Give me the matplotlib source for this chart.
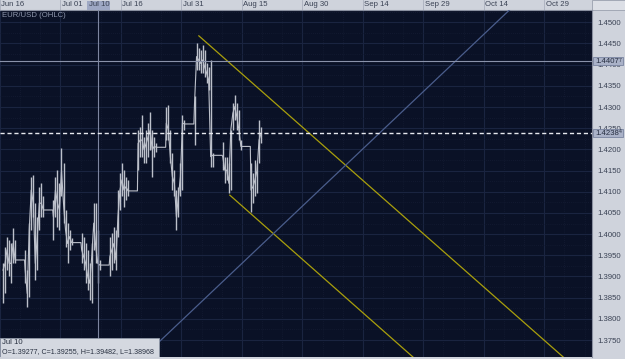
import matplotlib
matplotlib.use('Agg')
import matplotlib.pyplot as plt
import matplotlib.transforms as mtransforms
from matplotlib.patches import Rectangle
import pandas as pd

# EUR/USD half-day bars (06:00 and 18:00), first bar is Jun 16 18:00
trading_days = pd.bdate_range('2009-06-16', '2009-08-19')

highs = [1.3931,
         1.3970, 1.3994, 1.3986, 1.3978, 1.4014, 1.3986,
         1.3963, 1.3915, 1.4026, 1.4136, 1.4140, 1.4073, 1.4041, 1.4112, 1.4120, 1.4089,
         1.4081, 1.4136, 1.4151, 1.4120, 1.4203, 1.4167, 1.4057, 1.4026, 1.4010, 1.3990,
         1.4002, 1.3994, 1.3978, 1.3963, 1.3931, 1.3978, 1.4073, 1.4073, 1.4010, 1.3939,
         1.3994, 1.4002, 1.4018, 1.4010, 1.4104, 1.4144, 1.4167, 1.4151, 1.4136, 1.4128,
         1.4246, 1.4254, 1.4281, 1.4230, 1.4246, 1.4262, 1.4289, 1.4246, 1.4230, 1.4214,
         1.4301, 1.4305, 1.4246, 1.4191, 1.4151, 1.4104, 1.4112, 1.4167, 1.4281, 1.4270,
         1.4325, 1.4451, 1.4439, 1.4435, 1.4447, 1.4435, 1.4403, 1.4395, 1.4411, 1.4191,
         1.4218, 1.4183, 1.4183, 1.4167, 1.4246, 1.4309, 1.4329, 1.4309, 1.4293, 1.4222,
         1.4167, 1.4144, 1.4175, 1.4167, 1.4270, 1.4254]
lows = [1.3837,
        1.3860, 1.3915, 1.3900, 1.3884, 1.3931, 1.3931,
        1.3884, 1.3829, 1.3852, 1.4010, 1.4041, 1.3892, 1.3915, 1.4010, 1.4041, 1.4041,
        1.3986, 1.4041, 1.4018, 1.4010, 1.4089, 1.4026, 1.3970, 1.3931, 1.3963, 1.3974,
        1.3931, 1.3915, 1.3884, 1.3868, 1.3845, 1.3837, 1.3963, 1.3931, 1.3884, 1.3915,
        1.3900, 1.3915, 1.3931, 1.3915, 1.3994, 1.4057, 1.4089, 1.4065, 1.4081, 1.4089,
        1.4151, 1.4183, 1.4183, 1.4167, 1.4167, 1.4183, 1.4199, 1.4136, 1.4183, 1.4195,
        1.4222, 1.4222, 1.4167, 1.4104, 1.4089, 1.4010, 1.4041, 1.4089, 1.4104, 1.4246,
        1.4211, 1.4388, 1.4388, 1.4380, 1.4380, 1.4372, 1.4356, 1.4340, 1.4159, 1.4159,
        1.4151, 1.4120, 1.4128, 1.4096, 1.4104, 1.4246, 1.4270, 1.4246, 1.4222, 1.4199,
        1.4053, 1.4073, 1.4089, 1.4096, 1.4167, 1.4214]
closes = [1.3915,
          1.3931, 1.3963, 1.3931, 1.3931, 1.3978, 1.3939,
          1.3915, 1.3860, 1.4010, 1.4104, 1.4073, 1.3931, 1.3994, 1.4073, 1.4073, 1.4057,
          1.4041, 1.4104, 1.4073, 1.4057, 1.4151, 1.4073, 1.4010, 1.3978, 1.3994, 1.3980,
          1.3963, 1.3947, 1.3931, 1.3900, 1.3884, 1.3947, 1.4026, 1.3970, 1.3931, 1.3927,
          1.3947, 1.3963, 1.3978, 1.3939, 1.4041, 1.4104, 1.4128, 1.4104, 1.4112, 1.4102,
          1.4214, 1.4222, 1.4222, 1.4199, 1.4214, 1.4230, 1.4246, 1.4199, 1.4207, 1.4205,
          1.4262, 1.4246, 1.4183, 1.4136, 1.4120, 1.4041, 1.4089, 1.4136, 1.4262, 1.4260,
          1.4309, 1.4419, 1.4411, 1.4403, 1.4411, 1.4395, 1.4380, 1.4364, 1.4183, 1.4186,
          1.4183, 1.4151, 1.4151, 1.4120, 1.4246, 1.4285, 1.4301, 1.4277, 1.4246, 1.4207,
          1.4104, 1.4112, 1.4128, 1.4151, 1.4222, 1.4238]

# drawn objects (anchor date, price)
channel_upper = (['2009-08-04 07:40', '2009-11-02 16:30'], [1.4468, 1.3710])
channel_lower = (['2009-08-12 00:00', '2009-09-26 10:00'], [1.4092, 1.3710])
trend_line = (['2009-07-21 12:00', '2009-10-20 14:00'], [1.3710, 1.4531])
level_line = 1.44077
last_price = 1.42384
crosshair_time = '2009-07-10 10:00'
crosshair_text = 'O=1.39277, C=1.39255, H=1.39482, L=1.38968'

date_labels = ['2009-06-16', '2009-07-01', '2009-07-16', '2009-07-31', '2009-08-15',
               '2009-08-30', '2009-09-14', '2009-09-29', '2009-10-14', '2009-10-29']
price_ticks = [1.3750, 1.3800, 1.3850, 1.3900, 1.3950, 1.4000, 1.4050, 1.4100,
               1.4150, 1.4200, 1.4250, 1.4300, 1.4350, 1.4400, 1.4450, 1.4500]

BG = '#0a1126'
PANEL = '#cfd3dc'
TXT = '#3a4254'
FONT = 'Liberation Sans'
FS = 5.6
BAR = '#bcc0ca'

times = []
for d in trading_days:
    times.append(d + pd.Timedelta(hours=6))
    times.append(d + pd.Timedelta(hours=18))
times = times[1:]

# close line: hold the last close flat across weekend gaps
line_t, line_p = [], []
for i, t in enumerate(times):
    if i > 0 and (t - times[i - 1]) > pd.Timedelta(hours=13):
        line_t.append(t - pd.Timedelta(hours=4))
        line_p.append(closes[i - 1])
    line_t.append(t)
    line_p.append(closes[i])

fig = plt.figure(figsize=(6.25, 3.59), dpi=100, facecolor=PANEL)
ax = fig.add_axes([0, 2 / 359, 592 / 625, 347 / 359])
ax.set_facecolor(BG)
ax.set_xlim(pd.Timestamp('2009-06-16 16:20'), pd.Timestamp('2009-11-09 20:00'))
ax.set_ylim(1.3710, 1.4529)

# grid
major_x = pd.to_datetime(date_labels)
minor_x = pd.date_range('2009-06-16', '2009-11-10', freq='5D')
ax.set_xticks(major_x)
ax.set_xticks(minor_x, minor=True)
ax.set_yticks(price_ticks)
ax.set_yticks([p + 0.0025 for p in price_ticks], minor=True)
ax.grid(which='major', color='#1a2440', lw=0.8)
ax.grid(which='minor', color='#141c34', lw=0.6, ls=(0, (1, 1.5)))
ax.set_axisbelow(True)

ax.yaxis.tick_right()
ax.set_yticklabels(['%.4f' % p for p in price_ticks], fontsize=FS, color=TXT, family=FONT)
ax.tick_params(axis='y', which='both', length=0, pad=4)
ax.tick_params(axis='x', which='both', length=0, labelbottom=False)
for side in ['left', 'bottom']:
    ax.spines[side].set_visible(False)
for side in ['right', 'top']:
    ax.spines[side].set_color('#8a90a0')
    ax.spines[side].set_linewidth(0.8)

# price bars
ax.vlines(times, lows, highs, color=BAR, lw=1.0, zorder=3)
ax.plot(line_t, line_p, color=BAR, lw=0.8, zorder=3)

# drawings
ax.plot(pd.to_datetime(channel_upper[0]), channel_upper[1], color='#a99f0c', lw=0.9, zorder=4)
ax.plot(pd.to_datetime(channel_lower[0]), channel_lower[1], color='#a99f0c', lw=0.9, zorder=4)
ax.plot(pd.to_datetime(trend_line[0]), trend_line[1], color='#4a5d8c', lw=0.9, zorder=4)
ax.axhline(level_line, color='#8a92aa', lw=0.8, zorder=4)
ax.axhline(last_price, color='#e6e8ee', lw=1.0, ls=(0, (3, 2)), zorder=5)
ax.axvline(pd.Timestamp(crosshair_time), color='#7d85a0', lw=0.8, zorder=4)

ax.text(0.003, 0.985, 'EUR/USD (OHLC)', transform=ax.transAxes, fontsize=FS,
        color='#8e96ac', family=FONT, va='center', ha='left')

# header with dates
hdr = mtransforms.blended_transform_factory(ax.transData, fig.transFigure)
hy = 1 - 5 / 359
for d in major_x:
    ax.plot([d, d], [1 - 10 / 359, 1], transform=hdr, color='#aab0bd', lw=0.6, clip_on=False)
    ax.text(d + pd.Timedelta(hours=8), hy, d.strftime('%b %d'), transform=hdr, fontsize=FS,
            color=TXT, family=FONT, va='center', ha='left', clip_on=False)
ct = pd.Timestamp(crosshair_time)
ax.add_patch(Rectangle((ct - pd.Timedelta(hours=66), 1 - 10 / 359), pd.Timedelta(hours=132),
                       9 / 359, transform=hdr, facecolor='#9ea8c4', edgecolor='none',
                       clip_on=False, zorder=5))
ax.text(ct - pd.Timedelta(hours=56), hy, ct.strftime('%b %d'), transform=hdr, fontsize=FS,
        color=TXT, family=FONT, va='center', ha='left', clip_on=False, zorder=6)
fig.patches.append(Rectangle((592 / 625, 1 - 10 / 359), 33 / 625, 10 / 359,
                             transform=fig.transFigure, facecolor='#dcdfe6',
                             edgecolor='#9aa0ae', lw=0.6, zorder=-1))

# price marker boxes on the right axis (4 decimals + small fifth digit)
rt = mtransforms.blended_transform_factory(ax.transAxes, ax.transData)
for price in [level_line, last_price]:
    s = '%.5f' % price
    ax.add_patch(Rectangle((1.002, price - 0.00092), 0.05, 0.00184, transform=rt,
                           facecolor='#aab2c8', edgecolor='#7a84a0', lw=0.6,
                           clip_on=False, zorder=6))
    ax.text(1.0065, price, s[:-1], transform=rt, fontsize=FS, color='#262e40',
            family=FONT, va='center', ha='left', clip_on=False, zorder=7)
    ax.text(1.0455, price + 0.0003, s[-1], transform=rt, fontsize=3.8, color='#262e40',
            family=FONT, va='center', ha='left', clip_on=False, zorder=7)

# crosshair info box
ax.add_patch(Rectangle((0, 0), 159 / 592, 19 / 347, transform=ax.transAxes,
                       facecolor='#d4d8e0', edgecolor='#9098a8', lw=0.6, zorder=8))
ax.text(2 / 592, 14 / 347, ct.strftime('%b %d'), transform=ax.transAxes, fontsize=FS,
        color='#283040', family=FONT, va='center', ha='left', zorder=9)
ax.text(2 / 592, 5 / 347, crosshair_text, transform=ax.transAxes, fontsize=5.1,
        color='#283040', family=FONT, va='center', ha='left', zorder=9)

fig.savefig('out.png', dpi=100, facecolor=PANEL)
